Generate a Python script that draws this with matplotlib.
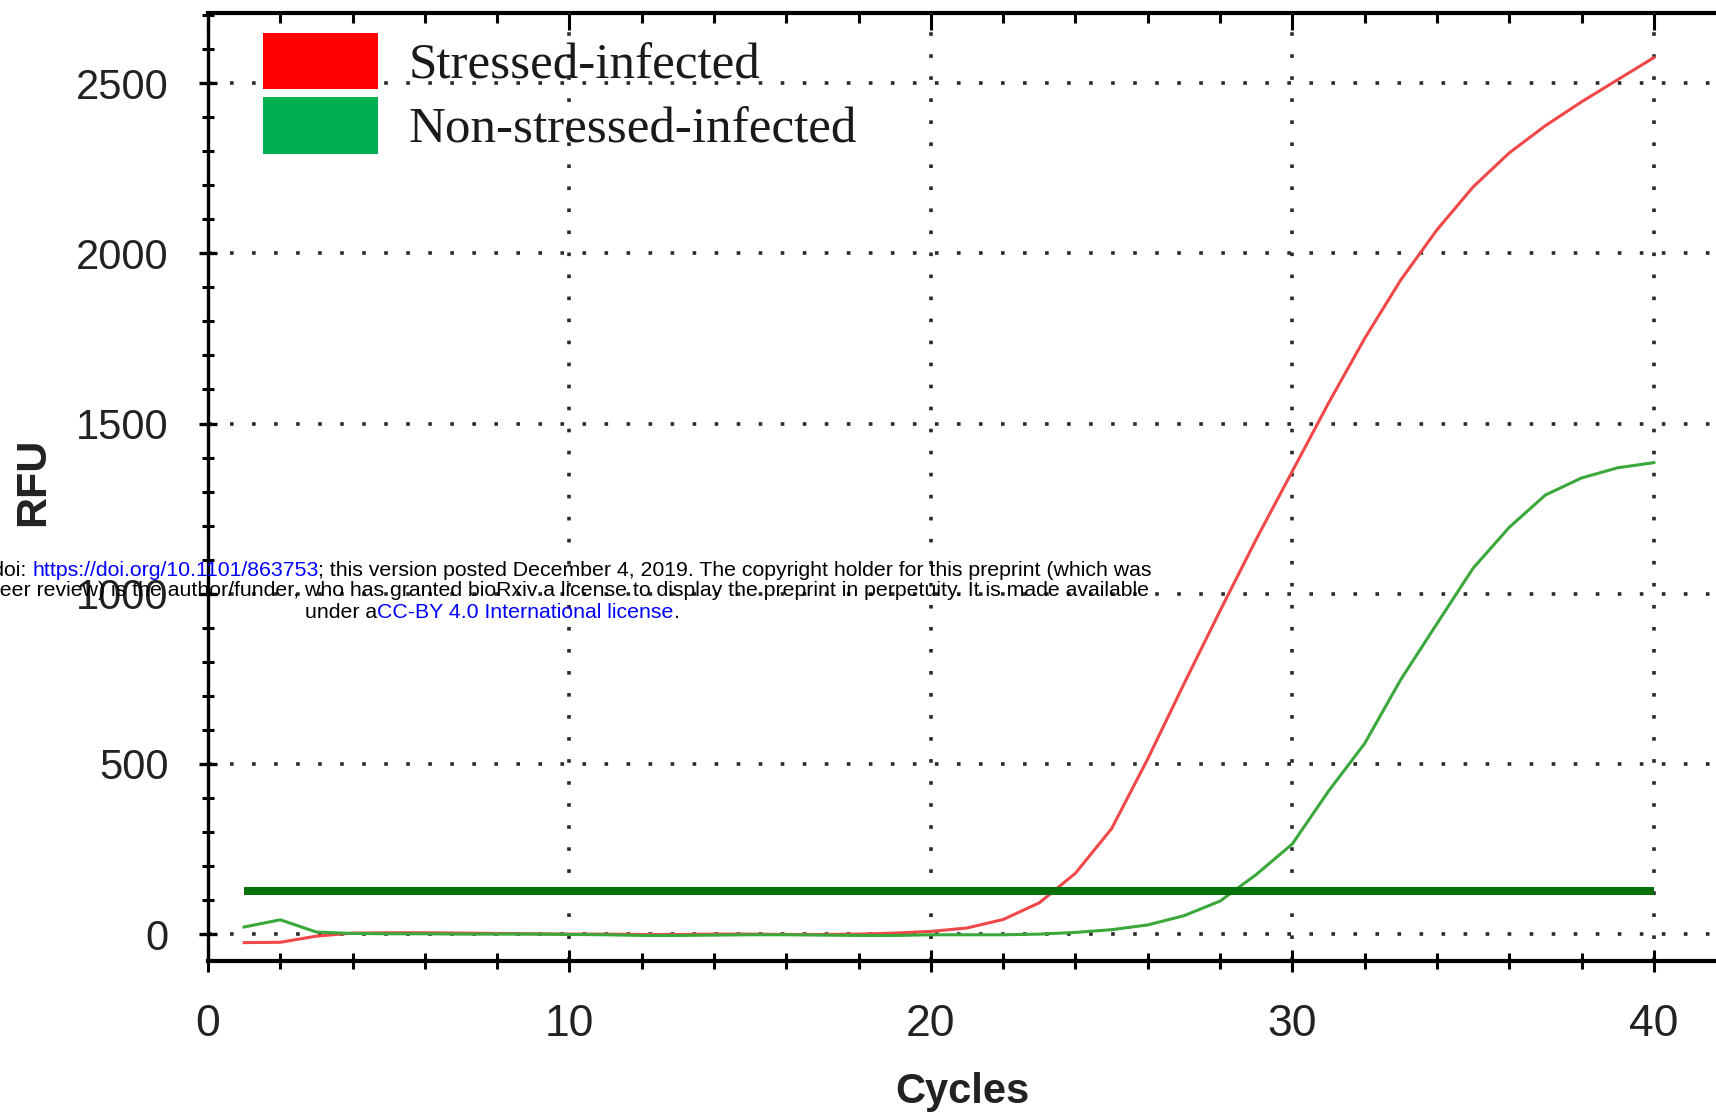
import matplotlib
matplotlib.use('Agg')
import matplotlib.pyplot as plt
from matplotlib.patches import Patch
from matplotlib.ticker import MultipleLocator
from matplotlib import font_manager

# data
cycles = list(range(1, 41))
stressed = [-25, -24, -6, 3, 4, 4, 3, 2, 1, 0,
            0, -1, -1, 0, 0, -1, -1, 0, 3, 8,
            18, 43, 92, 179, 310, 515, 735, 950, 1160, 1360,
            1560, 1750, 1922, 2069, 2195, 2295, 2375, 2445, 2510, 2575]
non_stressed = [21, 42, 6, 2, 1, 1, 0, 0, 0, -1,
                -2, -4, -4, -3, -2, -2, -3, -4, -4, -2,
                -2, -2, 0, 5, 13, 27, 54, 97, 175, 265,
                420, 560, 748, 912, 1075, 1195, 1290, 1340, 1370, 1385]
threshold_cycles = [1, 40]
threshold = 128
labels = ['Stressed-infected', 'Non-stressed-infected']

# narrow font for tick labels if it is there
names = {f.name for f in font_manager.fontManager.ttflist}
narrow = 'Liberation Sans Narrow' in names
tick_font = 'Liberation Sans Narrow' if narrow else 'Liberation Sans'
xsize, ysize = (36, 34) if narrow else (32, 30)

fig = plt.figure(figsize=(17.16, 11.18), dpi=100)
ax = fig.add_axes([208 / 1716, 157 / 1118, 1508 / 1716, 948 / 1118])

ax.plot(cycles, stressed, color='#f04848', lw=2.2, zorder=3)
ax.plot(cycles, non_stressed, color='#3aa83a', lw=2.2, zorder=3)
ax.plot(threshold_cycles, [threshold] * 2, color='#087008', lw=5.8,
        solid_capstyle='butt', zorder=4)

ax.set_xlim(0, 41.72)
ax.set_ylim(-79, 2706)

ax.xaxis.set_major_locator(MultipleLocator(10))
ax.xaxis.set_minor_locator(MultipleLocator(2))
ax.yaxis.set_major_locator(MultipleLocator(500))
ax.yaxis.set_minor_locator(MultipleLocator(100))

# dotted grid
ax.grid(which='major', color='#2a2a2a', linestyle=(0, (1, 5.1)), linewidth=2.6)
ax.set_axisbelow(True)

# spines
ax.spines['right'].set_visible(False)
ax.spines['top'].set_visible(False)
ax.spines['bottom'].set_linewidth(3)
ax.spines['left'].set_linewidth(2.4)

ax.tick_params(axis='x', which='major', direction='inout', length=16, width=2.2,
               pad=23, labelsize=xsize, labelcolor='#222222')
ax.tick_params(axis='x', which='minor', direction='inout', length=11, width=2.2)
ax.tick_params(axis='y', which='major', direction='inout', length=13, width=2.4,
               pad=22, labelsize=ysize, labelcolor='#222222')
ax.tick_params(axis='y', which='minor', direction='inout', length=9, width=2.2)
for lab in ax.get_xticklabels() + ax.get_yticklabels():
    lab.set_family(tick_font)

# top axis: ticks pointing down only
top = ax.secondary_xaxis('top')
top.xaxis.set_major_locator(MultipleLocator(10))
top.xaxis.set_minor_locator(MultipleLocator(2))
top.spines['top'].set_linewidth(3)
top.tick_params(which='major', direction='in', length=12, width=2.2, labeltop=False)
top.tick_params(which='minor', direction='in', length=7, width=2.2)

ax.set_xlabel('Cycles', fontsize=30, fontweight='bold', family='Liberation Sans',
              color='#222222', va='center')
ax.set_ylabel('RFU', fontsize=31, fontweight='bold', family='Liberation Sans',
              color='#222222', va='center')
ax.xaxis.set_label_coords(0.5, -0.138)
ax.yaxis.set_label_coords(-0.116, 0.505)

handles = [Patch(facecolor='#ff0000', edgecolor='none'),
           Patch(facecolor='#00b050', edgecolor='none')]
leg = ax.legend(handles, labels, loc='upper left', bbox_to_anchor=(0.0365, 0.979),
                frameon=False, borderpad=0, borderaxespad=0,
                handlelength=2.25, handleheight=1.32, handletextpad=0.59,
                labelspacing=0.16,
                prop={'family': 'Liberation Serif', 'size': 36.8})
for t in leg.get_texts():
    t.set_color('#1a1a1a')

# bioRxiv watermark over the figure
wm = dict(fontsize=15.3, family='Liberation Sans', annotation_clip=False, zorder=10)
blue = '#0000ff'

t1 = ax.annotate('; this version posted December 4, 2019. The copyright holder for this preprint (which was',
                 xy=(1152 / 1716, (1118 - 570) / 1118), xycoords='figure fraction',
                 ha='right', va='center', color='black', **wm)
t1b = ax.annotate('https://doi.org/10.1101/863753', xy=(0, 0), xycoords=t1,
                  ha='right', va='bottom', color=blue, **wm)
ax.annotate('bioRxiv preprint doi: ', xy=(0, 0), xycoords=t1b,
            ha='right', va='bottom', color='black', **wm)

ax.annotate('not certified by peer review) is the author/funder, who has granted bioRxiv a license to display the preprint in perpetuity. It is made available',
            xy=(1149 / 1716, (1118 - 591) / 1118), xycoords='figure fraction',
            ha='right', va='center', color='black', **wm)

t3 = ax.annotate('under a', xy=(305 / 1716, (1118 - 612) / 1118), xycoords='figure fraction',
                 ha='left', va='center', color='black', **wm)
t3b = ax.annotate('CC-BY 4.0 International license', xy=(1, 0), xycoords=t3,
                  ha='left', va='bottom', color=blue, **wm)
ax.annotate('.', xy=(1, 0), xycoords=t3b, ha='left', va='bottom', color='black', **wm)

fig.savefig('out.png', dpi=100)
